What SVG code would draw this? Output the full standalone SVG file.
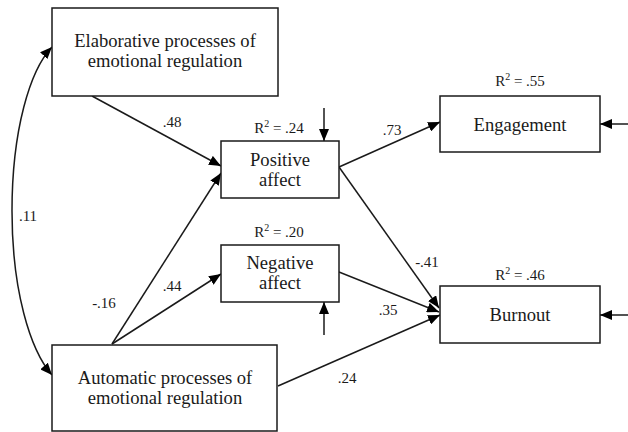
<svg xmlns="http://www.w3.org/2000/svg" width="628" height="432" viewBox="0 0 628 432">
<defs>
<marker id="ah" viewBox="0 0 12 10" refX="12" refY="5" markerWidth="12" markerHeight="10" markerUnits="userSpaceOnUse" orient="auto-start-reverse">
<path d="M0,0 L12,5 L0,10 Z" fill="#000"/>
</marker>
</defs>
<style>
rect{fill:#fff;stroke:#1a1a1a;stroke-width:1.5}
text{fill:#1a1a1a;text-anchor:middle}
.n{font-size:18.6px}
.l{font-size:15px}
.c line,.c path{stroke:#1a1a1a;stroke-width:1.5;fill:none}
</style>
<rect width="628" height="432" style="fill:#fff;stroke:none"/>
<g class="c" id="connectors">
<path d="M52,47 C30,70 12,130 12,211 C12,290 30,350 52,375" marker-start="url(#ah)" marker-end="url(#ah)"/>
<line x1="92" y1="96" x2="221" y2="166" marker-end="url(#ah)"/>
<line x1="112" y1="344" x2="221" y2="173" marker-end="url(#ah)"/>
<line x1="112" y1="344" x2="221" y2="274" marker-end="url(#ah)"/>
<line x1="339" y1="167" x2="440" y2="122" marker-end="url(#ah)"/>
<line x1="339" y1="167" x2="439" y2="308" marker-end="url(#ah)"/>
<line x1="339" y1="272" x2="439" y2="312" marker-end="url(#ah)"/>
<line x1="278" y1="386" x2="440" y2="315" marker-end="url(#ah)"/>
<line x1="324" y1="108" x2="324" y2="141" marker-end="url(#ah)"/>
<line x1="324" y1="335" x2="324" y2="302" marker-end="url(#ah)"/>
<line x1="628" y1="124" x2="600" y2="124" marker-end="url(#ah)"/>
<line x1="628" y1="315" x2="600" y2="315" marker-end="url(#ah)"/>
</g>
<g font-family="Liberation Serif, Times New Roman, DejaVu Serif, serif">
<g id="elaborative">
<rect x="52" y="8" width="226" height="88"/>
<text class="n" x="165" y="47">Elaborative processes of</text>
<text class="n" x="165" y="67">emotional regulation</text>
</g>
<g id="automatic">
<rect x="52" y="345" width="225" height="86"/>
<text class="n" x="165" y="384">Automatic processes of</text>
<text class="n" x="165" y="404">emotional regulation</text>
</g>
<g id="positive">
<rect x="221" y="141" width="118" height="57"/>
<text class="n" x="280" y="166">Positive</text>
<text class="n" x="280" y="186">affect</text>
<text class="l" x="279" y="133">R<tspan font-size="10" dy="-6">2</tspan><tspan dy="6"> = .24</tspan></text>
</g>
<g id="negative">
<rect x="221" y="245" width="118" height="57"/>
<text class="n" x="280" y="269">Negative</text>
<text class="n" x="280" y="289">affect</text>
<text class="l" x="279" y="237">R<tspan font-size="10" dy="-6">2</tspan><tspan dy="6"> = .20</tspan></text>
</g>
<g id="engagement">
<rect x="440" y="96" width="160" height="56"/>
<text class="n" x="520" y="131">Engagement</text>
<text class="l" x="520" y="86">R<tspan font-size="10" dy="-6">2</tspan><tspan dy="6"> = .55</tspan></text>
</g>
<g id="burnout">
<rect x="440" y="286" width="160" height="57"/>
<text class="n" x="520" y="321">Burnout</text>
<text class="l" x="520" y="280">R<tspan font-size="10" dy="-6">2</tspan><tspan dy="6"> = .46</tspan></text>
</g>
<g id="labels">
<text class="l" x="172" y="127">.48</text>
<text class="l" x="28" y="221">.11</text>
<text class="l" x="104" y="308">-.16</text>
<text class="l" x="172" y="291">.44</text>
<text class="l" x="392" y="135">.73</text>
<text class="l" x="427" y="267">-.41</text>
<text class="l" x="388" y="315">.35</text>
<text class="l" x="347" y="383">.24</text>
</g>
</g>
</svg>
